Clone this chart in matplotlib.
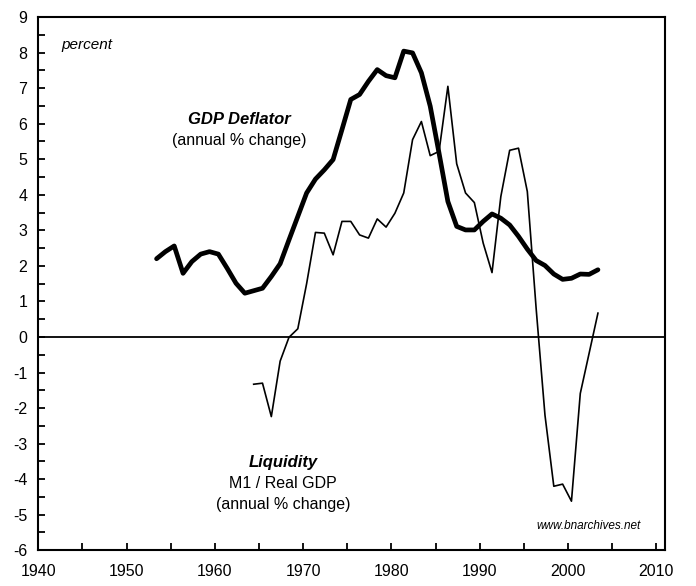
import numpy as np
import matplotlib
matplotlib.use('Agg')
import matplotlib.pyplot as plt
from matplotlib.ticker import MultipleLocator

plt.rcParams['font.family'] = ['Liberation Sans', 'DejaVu Sans']
plt.rcParams['axes.unicode_minus'] = False

# annual observations, plotted a little after the start of each year
deflator_years = list(range(1953, 2004))
deflator = [2.20, 2.40, 2.56, 1.79, 2.12, 2.33, 2.40, 2.33, 1.93, 1.51,
            1.23, 1.30, 1.37, 1.70, 2.06, 2.73, 3.39, 4.05, 4.44, 4.70,
            4.99, 5.83, 6.68, 6.82, 7.19, 7.52, 7.35, 7.29, 8.04, 7.99,
            7.43, 6.49, 5.17, 3.81, 3.11, 3.01, 3.01, 3.25, 3.46, 3.34,
            3.15, 2.83, 2.47, 2.15, 2.01, 1.77, 1.62, 1.65, 1.77, 1.76,
            1.89]

liquidity_years = list(range(1964, 2004))
liquidity = [-1.33, -1.30, -2.24, -0.68, -0.01, 0.23, 1.50, 2.94, 2.92, 2.31,
             3.25, 3.25, 2.87, 2.78, 3.32, 3.09, 3.48, 4.05, 5.55, 6.06,
             5.10, 5.22, 7.05, 4.87, 4.05, 3.78, 2.64, 1.81, 3.95, 5.25,
             5.31, 4.09, 0.80, -2.20, -4.20, -4.14, -4.62, -1.59, -0.46, 0.67]

mid_year = 0.4

fig = plt.figure(figsize=(6.96, 5.86), dpi=100)
ax = fig.add_axes([0.055, 0.061, 0.9005, 0.910])

ax.plot(np.array(deflator_years) + mid_year, deflator, color='black', lw=3.4,
        solid_joinstyle='round', solid_capstyle='round')
ax.plot(np.array(liquidity_years) + mid_year, liquidity, color='black', lw=1.2)
ax.axhline(0, color='black', lw=1.3)

ax.set_xlim(1940, 2011)
ax.set_ylim(-6, 9)
ax.set_xticks(range(1940, 2011, 10))
ax.xaxis.set_minor_locator(MultipleLocator(5))
ax.yaxis.set_major_locator(MultipleLocator(1))
ax.yaxis.set_minor_locator(MultipleLocator(0.5))
ax.tick_params(which='both', direction='in', width=1.3, labelsize=11.5)
ax.tick_params(which='major', length=5)
ax.tick_params(which='minor', length=5)
ax.tick_params(axis='x', pad=10)
ax.tick_params(axis='y', pad=8)
for s in ax.spines.values():
    s.set_linewidth(1.5)

ax.text(1942.6, 8.2, 'percent', style='italic', fontsize=11, va='center')
ax.text(1962.8, 6.11, 'GDP Deflator', style='italic', weight='bold',
        fontsize=12, ha='center', va='center')
ax.text(1962.8, 5.52, '(annual % change)', fontsize=11.5, ha='center', va='center')
ax.text(1967.7, -3.52, 'Liquidity', style='italic', weight='bold',
        fontsize=12, ha='center', va='center')
ax.text(1967.7, -4.12, 'M1 / Real GDP', fontsize=11.5, ha='center', va='center')
ax.text(1967.7, -4.7, '(annual % change)', fontsize=11.5, ha='center', va='center')
ax.text(2002.3, -5.32, 'www.bnarchives.net', style='italic', fontsize=8.5,
        ha='center', va='center')

fig.savefig('out.png', dpi=100)
